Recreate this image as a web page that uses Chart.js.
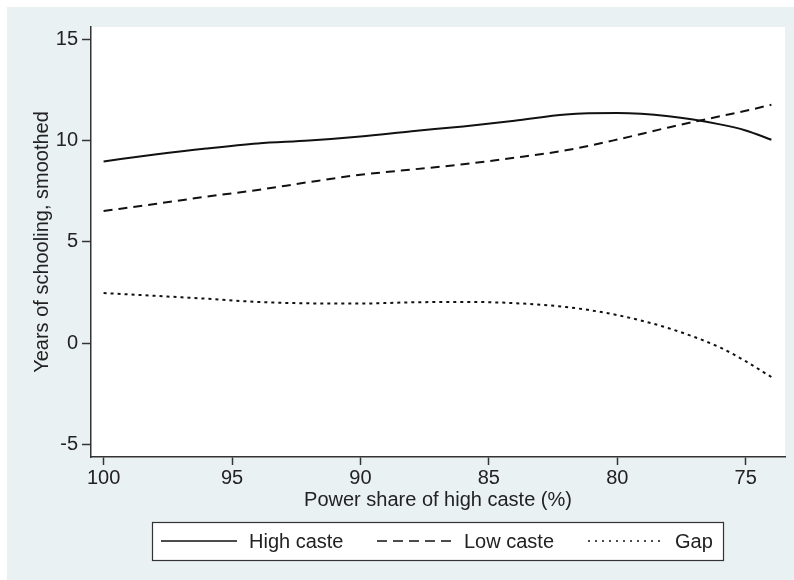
<!DOCTYPE html>
<html lang="en">

<head>
  <meta charset="UTF-8">
  <title>Years of schooling by power share</title>
  <script src="https://cdn.jsdelivr.net/npm/chart.js"></script>
  <style>
    html, body { margin: 0; padding: 0; background: #fff; }
    #box { width: 794px; height: 580px; }
  </style>
</head>

<body>
  <div id="box">
    <canvas id="grafico" width="794" height="580"></canvas>
  </div>
</body>

</html>
<script>
  // dados
  const powerShare = [100, 98, 96, 94, 92, 90, 88, 86, 84, 82, 80, 78, 76, 75, 74];
  const highCaste = [8.97, 9.31, 9.61, 9.86, 10.0, 10.2, 10.46, 10.7, 10.98, 11.29, 11.36, 11.2, 10.8, 10.5, 10.04];
  const lowCaste = [6.52, 6.87, 7.23, 7.56, 7.95, 8.31, 8.57, 8.83, 9.15, 9.52, 10.05, 10.65, 11.2, 11.47, 11.77];
  const gap = [2.47, 2.33, 2.19, 2.03, 1.96, 1.95, 2.01, 2.03, 1.97, 1.78, 1.38, 0.73, -0.22, -0.9, -1.68];

  const seriesNames = ['High caste', 'Low caste', 'Gap'];
  const xTicks = [100, 95, 90, 85, 80, 75];
  const yTicks = [-5, 0, 5, 10, 15];

  const fonte = '"Liberation Sans", Arial, Helvetica, sans-serif';
  const corFundo = '#eaf1f3';
  const corEixo = '#333';

  function pontos(valores) {
    return powerShare.map(function (x, i) { return { x: x, y: valores[i] }; });
  }

  // fundo estilo Stata + legenda em caixa
  const fundoPlugin = {
    id: 'fundo',
    beforeDraw(chart) {
      const ctx = chart.ctx;
      const a = chart.chartArea;
      ctx.save();
      ctx.fillStyle = '#fff';
      ctx.fillRect(0, 0, chart.width, chart.height);
      ctx.fillStyle = corFundo;
      ctx.fillRect(7, 7, chart.width - 7, chart.height - 7);
      ctx.fillStyle = '#fff';
      ctx.fillRect(a.left, a.top, a.right - a.left, a.bottom - a.top);
      ctx.restore();
    },
    afterDraw(chart) {
      const ctx = chart.ctx;
      ctx.save();
      const bx = 152, by = 522, bw = 571, bh = 38;
      ctx.fillStyle = '#fff';
      ctx.fillRect(bx, by, bw, bh);
      ctx.strokeStyle = corEixo;
      ctx.lineWidth = 1.2;
      ctx.strokeRect(bx + 0.5, by + 0.5, bw, bh);

      const cy = by + bh / 2;
      const amostras = [[161, 237, 249], [377, 452, 464], [588, 660, 675]];
      ctx.font = '20px ' + fonte;
      ctx.textBaseline = 'middle';
      ctx.fillStyle = '#222';
      chart.data.datasets.forEach(function (ds, i) {
        const s = amostras[i];
        ctx.beginPath();
        ctx.setLineDash(ds.legendDash || []);
        ctx.strokeStyle = ds.borderColor;
        ctx.lineWidth = 1.6;
        ctx.moveTo(s[0], cy);
        ctx.lineTo(s[1], cy);
        ctx.stroke();
        ctx.setLineDash([]);
        ctx.fillText(ds.label, s[2], cy + 1);
      });
      ctx.restore();
    }
  };

  const ctxGrafico = document.getElementById('grafico').getContext('2d');

  new Chart(ctxGrafico, {
    type: 'line',
    data: {
      datasets: [{
        label: seriesNames[0],
        data: pontos(highCaste),
        borderColor: '#111',
        borderWidth: 2,
        legendDash: []
      }, {
        label: seriesNames[1],
        data: pontos(lowCaste),
        borderColor: '#111',
        borderWidth: 2,
        borderDash: [9, 6],
        legendDash: [10, 6]
      }, {
        label: seriesNames[2],
        data: pontos(gap),
        borderColor: '#111',
        borderWidth: 2,
        borderDash: [3, 4],
        legendDash: [2, 5]
      }]
    },
    options: {
      responsive: false,
      animation: false,
      devicePixelRatio: 1,
      cubicInterpolationMode: 'monotone',
      elements: { point: { radius: 0 } },
      layout: { padding: { left: 0, top: 27, right: 9, bottom: 0 } },
      plugins: {
        legend: { display: false },
        tooltip: { enabled: false }
      },
      scales: {
        x: {
          type: 'linear',
          reverse: true,
          min: 73.47,
          max: 100.49,
          afterBuildTicks: function (scale) {
            scale.ticks = xTicks.map(function (v) { return { value: v }; });
          },
          afterFit: function (scale) { scale.height = 123; },
          grid: {
            drawOnChartArea: false,
            drawTicks: true,
            tickLength: 8,
            tickWidth: 1.5,
            tickColor: corEixo
          },
          border: { display: true, color: corEixo, width: 1.5 },
          ticks: {
            padding: 1,
            maxRotation: 0,
            color: '#222',
            font: { family: fonte, size: 20 },
            callback: function (v) { return String(v); }
          },
          title: {
            display: true,
            text: 'Power share of high caste (%)',
            color: '#222',
            font: { family: fonte, size: 20 },
            padding: { top: 0, bottom: 68 }
          }
        },
        y: {
          type: 'linear',
          min: -5.63,
          max: 15.61,
          afterBuildTicks: function (scale) {
            scale.ticks = yTicks.map(function (v) { return { value: v }; });
          },
          afterFit: function (scale) { scale.width = 91; },
          grid: {
            drawOnChartArea: false,
            drawTicks: true,
            tickLength: 9,
            tickWidth: 1.5,
            tickColor: corEixo
          },
          border: { display: true, color: corEixo, width: 1.5 },
          ticks: {
            padding: 4,
            color: '#222',
            font: { family: fonte, size: 20 },
            callback: function (v) { return String(v); }
          },
          title: {
            display: true,
            text: 'Years of schooling, smoothed',
            color: '#222',
            font: { family: fonte, size: 20 },
            padding: { top: 30, bottom: 0 }
          }
        }
      }
    },
    plugins: [fundoPlugin]
  });
</script>
